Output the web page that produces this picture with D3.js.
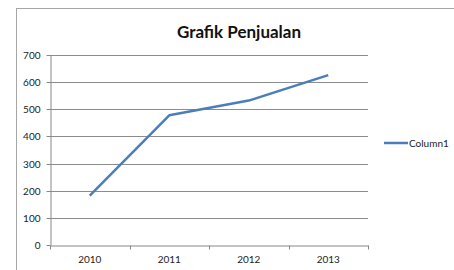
<!DOCTYPE html>
<head>
  <meta charset="utf-8">
  <script src="https://cdnjs.cloudflare.com/ajax/libs/d3/7.8.5/d3.min.js"></script>
</head>
<style>
  body { margin: 0; background: #fff; }
  .axis text { font-family: Lato, "Open Sans", sans-serif; font-size: 10px; fill: #222; }
  .axis path, .axis line { stroke: #888; }
</style>
<body>
  <svg width="454" height="270" class="chart"></svg>
  <script>
  let years = ["2010", "2011", "2012", "2013"];
  let sales = [182, 478, 532, 626];
  let yTicks = [0, 100, 200, 300, 400, 500, 600, 700];
  let seriesName = "Column1";

  let svg = d3.select(".chart");
  let margin = {top: 55, left: 50},
      width = 318, height = 190;

  // outer chart border
  svg.append("rect")
      .attr("x", 16.5).attr("y", 8.5)
      .attr("width", 460).attr("height", 280)
      .attr("fill", "none").attr("stroke", "#a6a6a6");

  svg.append("text")
      .attr("x", 239).attr("y", 38)
      .attr("text-anchor", "middle")
      .style("font-family", "Lato, 'Open Sans', sans-serif")
      .style("font-weight", "bold")
      .style("font-size", "17px")
      .attr("fill", "#111")
      .text("Grafik Penjualan");

  let g = svg.append("g")
      .attr("transform", "translate(" + margin.left + "," + margin.top + ")");

  let x = d3.scaleBand().domain(years).range([0, width]);
  let y = d3.scaleLinear().domain([0, 700]).range([height, 0]);

  // gridlines
  g.selectAll(".grid")
    .data(yTicks.slice(1))
    .enter().append("line")
      .attr("x1", 0).attr("x2", width)
      .attr("y1", d => Math.round(y(d)) + 0.5)
      .attr("y2", d => Math.round(y(d)) + 0.5)
      .attr("stroke", "#8c8c8c");

  let ya = g.append("g")
      .attr("class", "axis")
      .attr("transform", "translate(0.5,0)")
      .call(d3.axisLeft(y).tickValues(yTicks).tickSize(4).tickSizeOuter(0).tickPadding(6));
  ya.selectAll(".tick").attr("transform", d => "translate(0," + (Math.round(y(d)) + 0.5) + ")");

  let xa = g.append("g")
      .attr("class", "axis")
      .attr("transform", "translate(0," + (height + 0.5) + ")")
      .call(d3.axisBottom(x).tickSize(0).tickPadding(10));
  xa.selectAll(".bound")
    .data(d3.range(years.length + 1))
    .enter().append("line")
      .attr("x1", i => Math.round(i * x.step()) + 0.5)
      .attr("x2", i => Math.round(i * x.step()) + 0.5)
      .attr("y1", 0).attr("y2", 4)
      .attr("stroke", "#888");

  let line = d3.line()
      .x((d, i) => x(years[i]) + x.bandwidth() / 2)
      .y(d => y(d));

  g.append("path")
      .datum(sales)
      .attr("d", line)
      .attr("fill", "none")
      .attr("stroke", "#4a7ebb")
      .attr("stroke-width", 2.5)
      .attr("stroke-linejoin", "round");

  // legend
  let lg = svg.append("g").attr("transform", "translate(384,143)");
  lg.append("line")
      .attr("x1", 0).attr("x2", 24)
      .attr("stroke", "#4a7ebb").attr("stroke-width", 2.5);
  lg.append("text")
      .attr("x", 25).attr("y", 3.5)
      .style("font-family", "Lato, 'Open Sans', sans-serif")
      .style("font-size", "10px")
      .attr("fill", "#222")
      .text(seriesName);
  </script>
</body>
